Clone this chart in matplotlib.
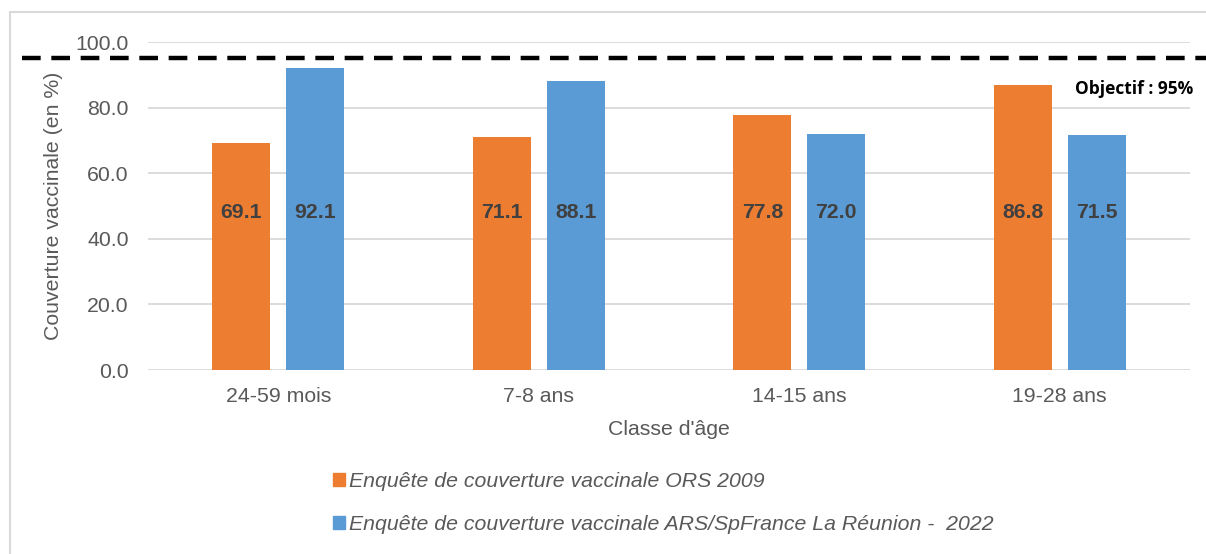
import matplotlib
matplotlib.use('Agg')
import numpy as np
import matplotlib.pyplot as plt
from matplotlib.patches import Rectangle, Patch
from matplotlib.lines import Line2D
import matplotlib.transforms as mtransforms

plt.rcParams['font.family'] = ['Liberation Sans', 'DejaVu Sans']

# data
categories = ['24-59 mois', '7-8 ans', '14-15 ans', '19-28 ans']
ors_2009 = [69.1, 71.1, 77.8, 86.8]
ars_2022 = [92.1, 88.1, 72.0, 71.5]
objectif = 95
series_labels = ['Enquête de couverture vaccinale ORS 2009',
                 'Enquête de couverture vaccinale ARS/SpFrance La Réunion -  2022']

orange = '#ED7D31'
blue = '#5B9BD5'
grey_txt = '#595959'
fs = 15.3

fig = plt.figure(figsize=(12.06, 5.54), dpi=100)
W, H = 1206, 554
ax = fig.add_axes([148 / W, 1 - 370 / H, (1190 - 148) / W, (370 - 42) / H])

x = np.arange(len(categories))
bw = 0.223
off = 0.142
ax.bar(x - off, ors_2009, bw, color=orange, zorder=3)
ax.bar(x + off, ars_2022, bw, color=blue, zorder=3)

for xi, v in zip(x, ors_2009):
    ax.text(xi - off, 48, f'{v:.1f}', ha='center', va='center', fontsize=fs,
            fontweight='bold', color='#404040', zorder=4)
for xi, v in zip(x, ars_2022):
    ax.text(xi + off, 48, f'{v:.1f}', ha='center', va='center', fontsize=fs,
            fontweight='bold', color='#404040', zorder=4)

ax.set_xlim(-0.5, len(categories) - 0.5)
ax.set_ylim(0, 100)
ax.set_yticks(np.arange(0, 101, 20))
ax.set_yticklabels([f'{t:.1f}' for t in np.arange(0, 101, 20)])
ax.set_xticks(x)
ax.set_xticklabels(categories)
ax.grid(axis='y', color='#D9D9D9', lw=1.3, zorder=0)
for s in ax.spines.values():
    s.set_visible(False)
ax.tick_params(length=0, labelsize=fs, colors=grey_txt)
ax.tick_params(axis='y', pad=14)
ax.tick_params(axis='x', pad=12)
ax.set_xlabel("Classe d'âge", fontsize=fs, color=grey_txt, labelpad=10)
ax.set_ylabel('Couverture vaccinale (en %)', fontsize=fs, color=grey_txt, labelpad=9)

# objective line spans the whole frame
trans = mtransforms.blended_transform_factory(fig.transFigure, ax.transData)
ax.add_line(Line2D([22 / W, 1.0], [objectif, objectif], transform=trans,
                   color='black', lw=3.2, dashes=(4.2, 2.4), clip_on=False, zorder=5))
ax.text(1193 / W, 85.8, f'Objectif : {objectif}%', transform=trans, ha='right',
        va='center', fontsize=12.5, fontweight='bold', color='black',
        family=['Open Sans', 'DejaVu Sans'])

# outer frame
fig.patches.append(Rectangle((10 / W, -0.1), 1.2, 1.1 - 12 / H, transform=fig.transFigure,
                             fill=False, ec='#D9D9D9', lw=1.5))

handles = [Patch(color=orange), Patch(color=blue)]
leg = fig.legend(handles, series_labels, loc='center left',
                 bbox_to_anchor=(314 / W, 1 - 503 / H), frameon=False,
                 handlelength=0.55, handleheight=0.55, handletextpad=0.2,
                 labelspacing=1.1, prop={'style': 'italic', 'size': fs})
for t in leg.get_texts():
    t.set_color(grey_txt)

fig.savefig('out.png', dpi=100)
